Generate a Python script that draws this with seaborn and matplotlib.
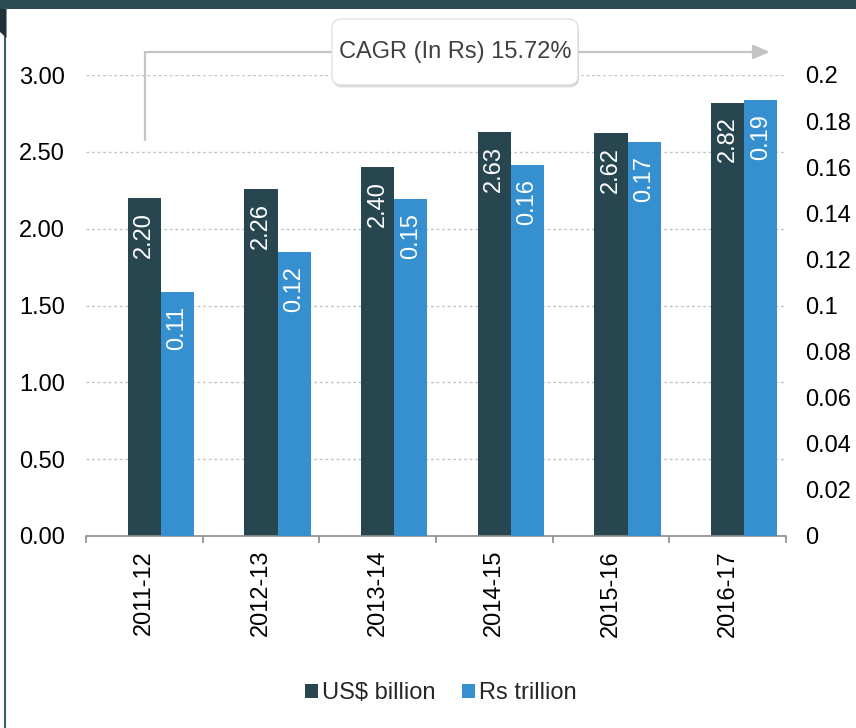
import numpy as np
import pandas as pd
import matplotlib
matplotlib.use("Agg")
import matplotlib.pyplot as plt
import seaborn as sns
from matplotlib.patches import FancyBboxPatch, Rectangle, Polygon, Patch
from matplotlib.lines import Line2D
from matplotlib.ticker import FixedLocator, FuncFormatter

# ---- data ----
years = ["2011-12", "2012-13", "2013-14", "2014-15", "2015-16", "2016-17"]
usd_billion = [2.20, 2.26, 2.40, 2.63, 2.62, 2.82]
rs_trillion = [0.106, 0.123, 0.146, 0.161, 0.171, 0.189]
usd_labels = ["2.20", "2.26", "2.40", "2.63", "2.62", "2.82"]
rs_labels = ["0.11", "0.12", "0.15", "0.16", "0.17", "0.19"]
series_names = ["US$ billion", "Rs trillion"]
left_ticks = [0.0, 0.5, 1.0, 1.5, 2.0, 2.5, 3.0]
right_ticks = [0, 0.02, 0.04, 0.06, 0.08, 0.10, 0.12, 0.14, 0.16, 0.18, 0.20]
cagr_text = "CAGR (In Rs) 15.72%"

DARK = "#284650"
BLUE = "#3690d0"
SPACER = "_spacer"  # empty dodge slot so the dark bar sits on the category centre
palette = {SPACER: "white", series_names[0]: DARK, series_names[1]: BLUE}
hue_levels = [SPACER] + series_names

sns.set_theme(style="white")
plt.rcParams["font.family"] = ["Liberation Sans", "DejaVu Sans"]
FS = 17

fig = plt.figure(figsize=(8.56, 7.28), dpi=100)
L, R, T, B = 86 / 856, 786 / 856, 75 / 728, 536 / 728
ax = fig.add_axes([L, 1 - B, R - L, B - T])
ax2 = ax.twinx()

df_usd = pd.DataFrame({"year": years, "series": series_names[0], "value": usd_billion})
df_rs = pd.DataFrame({"year": years, "series": series_names[1], "value": rs_trillion})

common = dict(x="year", y="value", hue="series", hue_order=hue_levels,
              order=years, palette=palette, width=0.85, dodge=True, gap=0,
              legend=False, saturation=1, errorbar=None, linewidth=0)
sns.barplot(data=df_usd, ax=ax, **common)
sns.barplot(data=df_rs, ax=ax2, **common)

ax.set_xlim(-0.5, len(years) - 0.5)
ax.set_ylim(0, 3)
ax2.set_ylim(0, 0.2)

# bar value labels
for axis, labels in ((ax, usd_labels), (ax2, rs_labels)):
    for cont in axis.containers:
        for rect, lab in zip(cont, labels):
            axis.annotate(lab, (rect.get_x() + rect.get_width() / 2, rect.get_height()),
                          xytext=(0, -10), textcoords="offset points", rotation=90,
                          ha="center", va="top", color="white", fontsize=FS)

# axes styling
for s in ["top", "left", "right"]:
    ax.spines[s].set_visible(False)
for s in ["top", "left", "right", "bottom"]:
    ax2.spines[s].set_visible(False)
ax.spines["bottom"].set_color("#8c8c8c")
ax.spines["bottom"].set_linewidth(1.2)
ax.set_xlabel("")
ax.set_ylabel("")
ax2.set_xlabel("")
ax2.set_ylabel("")

ax.set_xticks(range(len(years)))
ax.set_xticklabels(years)
ax.xaxis.set_minor_locator(FixedLocator(np.arange(len(years) + 1) - 0.5))
ax.tick_params(axis="x", which="major", length=0, pad=10, labelsize=FS,
               rotation=90, colors="black")
ax.tick_params(axis="x", which="minor", length=5, width=1.2, color="#8c8c8c",
               direction="out", bottom=True)

ax.set_yticks(left_ticks)
ax.yaxis.set_major_formatter(FuncFormatter(lambda v, p: f"{v:.2f}"))
ax.tick_params(axis="y", length=0, pad=15, labelsize=FS, colors="black")

ax2.set_yticks(right_ticks)
ax2.yaxis.set_major_formatter(FuncFormatter(lambda v, p: f"{v:g}"))
ax2.tick_params(axis="y", length=0, pad=14, labelsize=FS, colors="black")

ax.yaxis.grid(True, color="#c4c4c4", linestyle=(0, (2, 2)), linewidth=1)
ax.xaxis.grid(False)
ax2.grid(False)
ax.set_axisbelow(True)

# CAGR elbow arrow
ax.annotate("", xy=(5.36, 3.15), xytext=(0.01, 2.58),
            arrowprops=dict(arrowstyle="-|>,head_length=0.5,head_width=0.22",
                            mutation_scale=20, color="#c4c4c4", lw=1.6,
                            shrinkA=0, shrinkB=0,
                            connectionstyle="angle,angleA=90,angleB=0,rad=0"),
            annotation_clip=False)

# CAGR box (shadow + box + text)
bx0, by0, bw, bh = 332 / 856, 1 - 85 / 728, 246 / 856, 66 / 728
for k, a in enumerate([0.06, 0.08, 0.10]):
    off = (3 - k) / 856
    sh = FancyBboxPatch((bx0 + 1 / 856, by0 - off * 1.2), bw, bh,
                        boxstyle="round,pad=0,rounding_size=0.012",
                        transform=fig.transFigure, facecolor="black", alpha=a,
                        edgecolor="none", zorder=4)
    fig.add_artist(sh)
box = FancyBboxPatch((bx0, by0), bw, bh, boxstyle="round,pad=0,rounding_size=0.012",
                     transform=fig.transFigure, facecolor="white",
                     edgecolor="#e2e2e2", linewidth=1, zorder=5)
fig.add_artist(box)
fig.text(bx0 + bw / 2, by0 + bh / 2, cagr_text, ha="center", va="center",
         fontsize=FS, color="#404040", zorder=6)

# decorative frame elements
fig.add_artist(Rectangle((0, 1 - 9 / 728), 1, 9 / 728, transform=fig.transFigure,
                         facecolor="#2b4a53", edgecolor="none", zorder=7))
fig.add_artist(Line2D([5 / 856, 5 / 856], [0, 1 - 9 / 728], transform=fig.transFigure,
                      color="#3d5c66", lw=1.5, zorder=7))
fig.add_artist(Polygon([(0, 1 - 9 / 728), (6.5 / 856, 1 - 9 / 728),
                        (6.5 / 856, 1 - 38 / 728), (0, 1 - 32 / 728)],
                       closed=True, transform=fig.transFigure,
                       facecolor="#1c3038", edgecolor="none", zorder=7))

# legend
handles = [Patch(facecolor=palette[n], edgecolor="none") for n in series_names]
fig.legend(handles, series_names, loc="center", bbox_to_anchor=(0.515, 0.048),
           ncol=2, frameon=False, fontsize=FS, handlelength=0.55, handleheight=0.55,
           handletextpad=0.2, columnspacing=1.1)

fig.savefig("out.png", dpi=100)
